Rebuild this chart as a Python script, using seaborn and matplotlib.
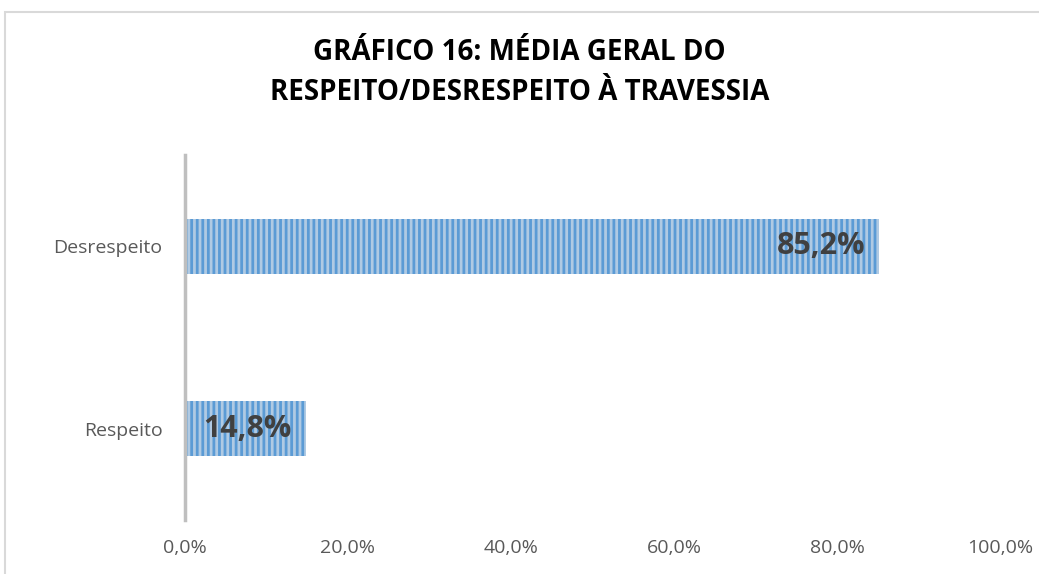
import matplotlib
matplotlib.use("Agg")
import matplotlib.pyplot as plt
from matplotlib.patches import Rectangle
from matplotlib.ticker import FuncFormatter
import seaborn as sns
import pandas as pd

# dados do gráfico
categorias = ["Desrespeito", "Respeito"]
percentuais = [85.2, 14.8]
titulo = "GRÁFICO 16: MÉDIA GERAL DO\nRESPEITO/DESRESPEITO À TRAVESSIA"

sns.set_theme(style="white")
plt.rcParams['font.family'] = ['Open Sans', 'DejaVu Sans']
plt.rcParams['hatch.linewidth'] = 2.0

df = pd.DataFrame({"categoria": categorias, "valor": percentuais})

fig = plt.figure(figsize=(10.39, 5.74), dpi=100)
ax = fig.add_axes([0.178, 0.094, 0.7845, 0.636])

sns.barplot(data=df, x="valor", y="categoria", orient="h", width=0.30,
            color="#A7CAEC", linewidth=0, ax=ax)
for p in ax.patches:
    p.set_hatch("|||")
    p.set_edgecolor("#5B9BD5")
    p.set_linewidth(0)

# rótulos de dados
for i, v in enumerate(percentuais):
    ax.annotate(f"{v:.1f}%".replace(".", ","), xy=(v, i), xytext=(-10, 0),
                textcoords="offset points", ha="right", va="center",
                fontsize=22, fontweight="bold", color="#404040")

ax.set_xlim(0, 100)
ax.set_xticks([0, 20, 40, 60, 80, 100])
ax.xaxis.set_major_formatter(FuncFormatter(lambda x, _: f"{x:.1f}%".replace(".", ",")))
ax.set_xlabel("")
ax.set_ylabel("")
ax.tick_params(axis="both", length=0, labelsize=14, labelcolor="#595959")
ax.tick_params(axis="x", pad=14)
ax.tick_params(axis="y", pad=16)

for s in ["top", "right", "bottom"]:
    ax.spines[s].set_visible(False)
ax.spines["left"].set_color("#BFBFBF")
ax.spines["left"].set_linewidth(2.5)
ax.grid(False)

fig.text(0.5, 0.874, titulo, ha="center", va="center", fontsize=20,
         fontweight="bold", color="#000000", linespacing=1.5)

# moldura do gráfico (cortada à direita e embaixo)
fig.patches.append(Rectangle((5 / 1039, -0.2), 1.2, 1.2 - 12 / 574,
                             transform=fig.transFigure, fill=False,
                             edgecolor="#D9D9D9", linewidth=1.5))

fig.savefig("out.png", dpi=100)
